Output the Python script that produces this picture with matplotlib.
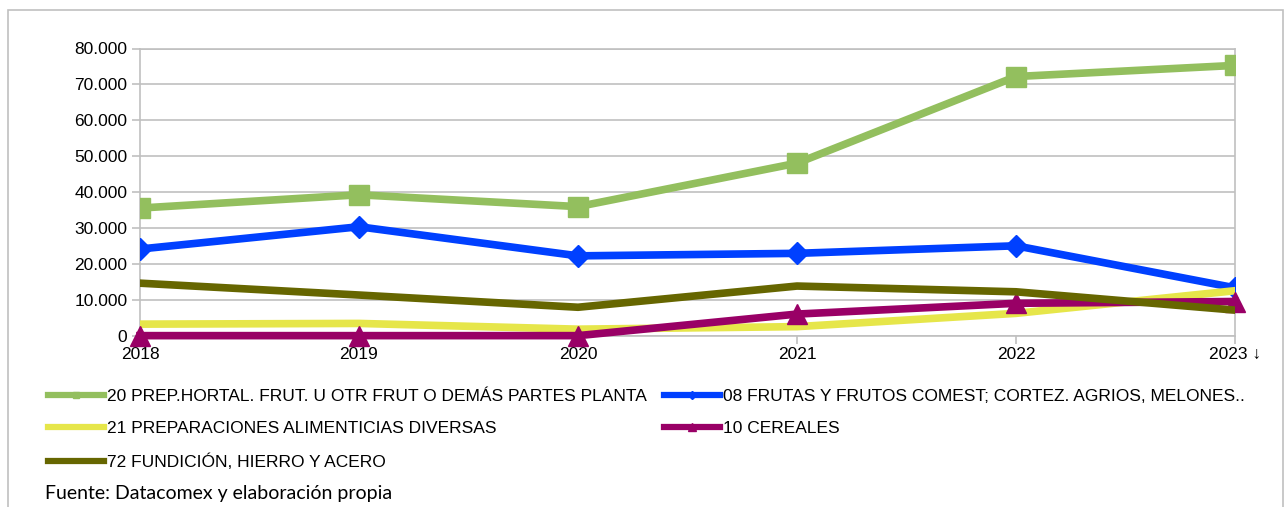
import numpy as np
import matplotlib
matplotlib.use("Agg")
import matplotlib.pyplot as plt
from matplotlib.lines import Line2D
from matplotlib.patches import Rectangle

# datos
anios = ["2018", "2019", "2020", "2021", "2022", "2023"]
anios_txt = ["2018", "2019", "2020", "2021", "2022", "2023 ↓"]
prep_hortal = [35600, 39300, 36000, 48100, 72200, 75300]
frutas = [24200, 30400, 22300, 23000, 25100, 13400]
prep_alim = [3300, 3500, 1900, 2600, 6300, 12600]
cereales = [100, 100, 100, 6100, 9100, 9600]
fundicion = [14700, 11400, 8000, 13900, 12300, 7200]

etiquetas = ["20 PREP.HORTAL. FRUT. U OTR FRUT O DEMÁS PARTES PLANTA",
             "08 FRUTAS Y FRUTOS COMEST; CORTEZ. AGRIOS, MELONES..",
             "21 PREPARACIONES ALIMENTICIAS DIVERSAS",
             "10 CEREALES",
             "72 FUNDICIÓN, HIERRO Y ACERO"]
yticks = [0, 10000, 20000, 30000, 40000, 50000, 60000, 70000, 80000]
ytick_labels = ["0", "10.000", "20.000", "30.000", "40.000", "50.000",
                "60.000", "70.000", "80.000"]

verde = "#93bf5e"
azul = "#0040ff"
amarillo = "#e6e64a"
morado = "#990066"
oliva = "#666600"

plt.rcParams['font.family'] = ['Liberation Sans', 'DejaVu Sans']

W, H = 1285, 507
fig = plt.figure(figsize=(W / 100, H / 100), dpi=100)
ax = fig.add_axes([140 / W, 1 - 336 / H, 1095 / W, 287.5 / H])

x = np.arange(len(anios))
lw = 5.5
ax.plot(x, prep_hortal, color=verde, lw=lw, marker="s", ms=14, zorder=3)
ax.plot(x, frutas, color=azul, lw=lw, marker="D", ms=11, zorder=3)
ax.plot(x, prep_alim, color=amarillo, lw=lw, zorder=3)
ax.plot(x, cereales, color=morado, lw=lw, marker="^", ms=14, zorder=3,
        clip_on=False)
ax.plot(x, fundicion, color=oliva, lw=lw, zorder=3)

ax.set_xlim(0, len(anios) - 1)
ax.set_ylim(0, 80000)
ax.set_yticks(yticks)
ax.set_yticklabels(ytick_labels, fontsize=12.5)
ax.set_xticks(x)
ax.set_xticklabels(anios_txt, fontsize=12.5)
ax.grid(axis="y", color="#c0c0c0", lw=1.2)
for s in ax.spines.values():
    s.set_color("#c0c0c0")
    s.set_linewidth(1.2)
ax.tick_params(colors="#c0c0c0", labelcolor="black", length=6, width=1.2,
               pad=3)
ax.tick_params(axis="x", pad=2)

# leyenda
handles = [Line2D([], [], color=verde, lw=4.5, marker="s", ms=5),
           Line2D([], [], color=amarillo, lw=4.5),
           Line2D([], [], color=oliva, lw=4.5),
           Line2D([], [], color=azul, lw=4.5, marker="D", ms=4),
           Line2D([], [], color=morado, lw=4.5, marker="^", ms=6)]
labs = [etiquetas[0], etiquetas[2], etiquetas[4], etiquetas[1], etiquetas[3]]
fig.legend(handles, labs, ncol=2, loc="upper left",
           bbox_to_anchor=(48 / W, 1 - 389 / H), frameon=False,
           borderpad=0, borderaxespad=0,
           fontsize=12.5, handlelength=3.2, handletextpad=0.2,
           labelspacing=0.98, columnspacing=1.0)

fig.text(45 / W, 1 - 494 / H, "Fuente: Datacomex y elaboración propia",
         fontsize=14, family=["Lato", "DejaVu Sans"], va="center")

# marco exterior
fig.patches.append(Rectangle((8 / W, -0.1), 1275 / W, 1.1 - 10 / H,
                             transform=fig.transFigure, fill=False,
                             edgecolor="#c0c0c0", lw=1.2))

fig.savefig("out.png", dpi=100)
